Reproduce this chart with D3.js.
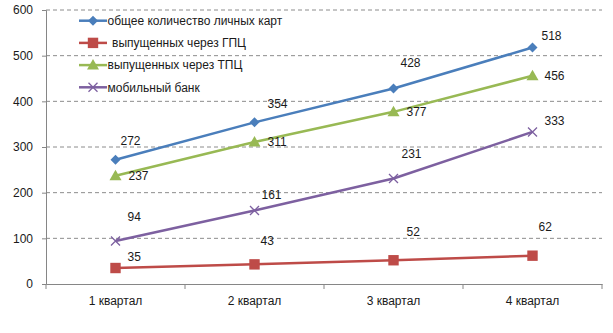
<!DOCTYPE html>
<html><head><meta charset="utf-8">
<script src="https://cdn.jsdelivr.net/npm/d3@7/dist/d3.min.js"></script>
<style>
html,body{margin:0;padding:0;background:#fff;}
svg text{font-family:"Liberation Sans",Arial,sans-serif;fill:#1a1a1a;}
</style></head>
<body>
<svg id="chart" width="613" height="333"></svg>
<script>
const categories = ["1 квартал", "2 квартал", "3 квартал", "4 квартал"];
const seriesNames = ["общее количество личных карт", "выпущенных через ГПЦ", "выпущенных через ТПЦ", "мобильный банк"];
const totalCards = [272, 354, 428, 518];
const viaGPC = [35, 43, 52, 62];
const viaTPC = [237, 311, 377, 456];
const mobileBank = [94, 161, 231, 333];
const yTicks = [0, 100, 200, 300, 400, 500, 600];

const colors = ["#4A7EBB", "#BE4B48", "#98B954", "#7D60A0"];
const markers = ["diamond", "square", "triangle", "x"];
// label offsets (dx, dy) relative to point, per series
const labelOffsets = [
  [[5,-19],[13,-19],[7,-26],[9,-12]],
  [[12,-11],[6,-24],[13,-28],[6,-29]],
  [[13,0],[13,0],[13,0],[12,0]],
  [[12,-24],[7,-16],[8,-25],[12,-11]]
];
const seriesData = [totalCards, viaGPC, viaTPC, mobileBank];
const FS = "12px";

const svg = d3.select("#chart");
const pLeft = 46, pRight = 602, pTop = 10, pBottom = 284;
const x = d3.scaleBand().domain(categories).range([pLeft, pRight]).padding(0);
const y = d3.scaleLinear().domain([0, 600]).range([pBottom, pTop]);
const cx = c => x(c) + x.bandwidth() / 2;

// gridlines
svg.append("g").selectAll("line").data(yTicks.filter(d => d > 0)).join("line")
  .attr("x1", pLeft).attr("x2", pRight)
  .attr("y1", d => y(d)).attr("y2", d => y(d))
  .attr("stroke", "#8c8c8c").attr("stroke-width", 1).attr("stroke-dasharray", "4,3");

// y axis
const yAxis = svg.append("g").attr("transform", `translate(${pLeft},0)`)
  .call(d3.axisLeft(y).tickValues(yTicks).tickSize(4).tickPadding(9));
yAxis.select(".domain").attr("stroke", "#868686");
yAxis.selectAll(".tick line").attr("stroke", "#868686");
yAxis.selectAll("text").attr("font-size", FS).attr("fill", "#1a1a1a");

// x axis
const xAxis = svg.append("g").attr("transform", `translate(0,${pBottom})`)
  .call(d3.axisBottom(x).tickSize(0).tickPadding(12));
xAxis.select(".domain").attr("stroke", "#868686");
xAxis.selectAll("text").attr("font-size", FS).attr("fill", "#1a1a1a");
// boundary ticks
svg.append("g").selectAll("line").data(categories.concat(["end"])).join("line")
  .attr("x1", (d,i) => i < categories.length ? x(d) : pRight)
  .attr("x2", (d,i) => i < categories.length ? x(d) : pRight)
  .attr("y1", pBottom).attr("y2", pBottom + 5)
  .attr("stroke", "#868686");

function drawMarker(g, type, px, py, color) {
  if (type === "diamond") {
    const s = 5;
    g.append("path").attr("d", `M${px},${py-s}L${px+s},${py}L${px},${py+s}L${px-s},${py}Z`).attr("fill", color);
  } else if (type === "square") {
    const s = 5.2;
    g.append("rect").attr("x", px-s).attr("y", py-s).attr("width", 2*s).attr("height", 2*s).attr("fill", color);
  } else if (type === "triangle") {
    const s = 6;
    g.append("path").attr("d", `M${px},${py-s}L${px+s},${py+s*0.75}L${px-s},${py+s*0.75}Z`).attr("fill", color);
  } else {
    const s = 4.5;
    g.append("path").attr("d", `M${px-s},${py-s}L${px+s},${py+s}M${px+s},${py-s}L${px-s},${py+s}`)
      .attr("stroke", color).attr("stroke-width", 1.3).attr("fill", "none");
  }
}

const line = d3.line().x((d,i) => cx(categories[i])).y(d => y(d));
seriesData.forEach((vals, s) => {
  const g = svg.append("g");
  g.append("path").datum(vals).attr("d", line).attr("fill", "none")
    .attr("stroke", colors[s]).attr("stroke-width", 2.5).attr("stroke-linejoin", "round");
  vals.forEach((v, i) => drawMarker(g, markers[s], cx(categories[i]), y(v), colors[s]));
  g.selectAll("text.lbl").data(vals).join("text").attr("class", "lbl")
    .attr("x", (d,i) => cx(categories[i]) + labelOffsets[s][i][0])
    .attr("y", (d,i) => y(d) + labelOffsets[s][i][1])
    .attr("dy", "0.35em").attr("font-size", FS)
    .text(d => d);
});

// legend
const legend = svg.append("g");
seriesNames.forEach((name, s) => {
  const ly = 20.7 + s * 22.2;
  legend.append("line").attr("x1", 79).attr("x2", 107).attr("y1", ly).attr("y2", ly)
    .attr("stroke", colors[s]).attr("stroke-width", 2.5);
  drawMarker(legend, markers[s], 93, ly, colors[s]);
  legend.append("text").attr("x", s === 1 ? 112 : 107.5).attr("y", ly).attr("dy", "0.35em")
    .attr("font-size", FS).text(name);
});
</script>
</body></html>
